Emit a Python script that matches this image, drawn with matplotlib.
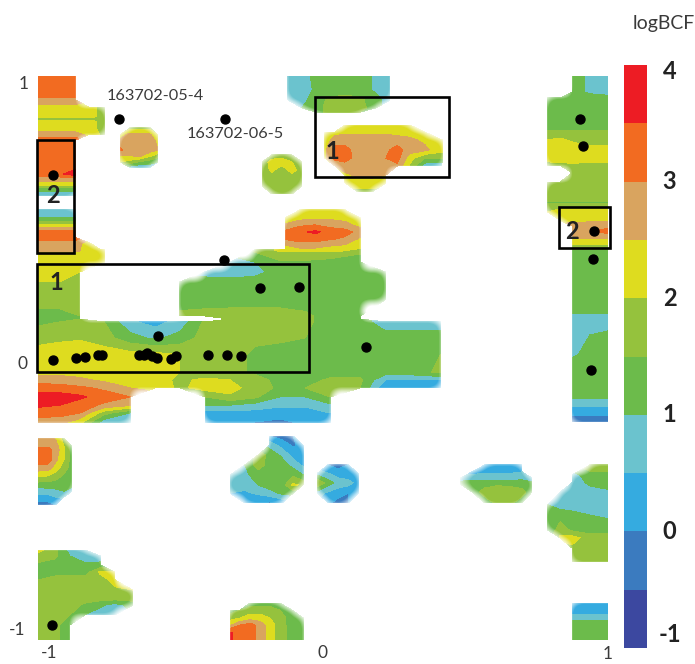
# -*- coding: utf-8 -*-
import numpy as np
import matplotlib
matplotlib.use("Agg")
import matplotlib.pyplot as plt
from matplotlib.patches import Rectangle
from matplotlib.colors import ListedColormap, BoundaryNorm
from matplotlib.cm import ScalarMappable

N = np.nan  # regiao sem dados (branco)

##############################################################################
""" DADOS """

niveis = [-1, -0.5, 0, 0.5, 1, 1.5, 2, 2.5, 3, 3.5, 4]
cores = ['#3C48A0', '#3B7BBF', '#35ABE0', '#6BC3CE', '#6CBB4B',
         '#95C23D', '#DEDC1F', '#D9A45F', '#F26B21', '#ED1C24']

# Bloco central
main_x = [-1, -.923, -.853, -.768, -.677, -.589, -.502, -.414, -.326, -.239,
          -.151, -.063, .025, .13, .218, .305, .411]
main_y = [.383, .34, .305, .27, .206, .149, .138, .128, .071, .011, -.05,
          -.078, -.106, -.138, -.167, -.195, -.227]
main_z = [
    [2.25, 2.25, 2.2, 2.0, N, N, N, N, N, 1.6, 2.1, 2.1, 2.0, 1.7, N, N, N],
    [2.25, 2.2, 2.2, 2.0, N, N, N, N, .7, 1.0, 1.4, 1.4, 1.3, 1.1, N, N, N],
    [2.1, 2.1, 2.0, N, N, N, N, .8, .7, .8, 1.25, 1.25, 1.25, 1.25, 1.0, N, N],
    [2.0, 2.0, 1.9, N, N, N, 1.3, 1.2, 1.2, 1.25, 1.25, 1.25, 1.25, 1.25, 1.0, N, N],
    [1.75, 1.75, 1.7, N, N, N, 1.3, 1.25, 1.25, 1.25, 1.25, 1.25, 1.25, 1.25, 1.0, N, N],
    [1.25, 1.3, 1.5, N, N, N, 1.6, 1.7, 1.75, 1.75, 1.75, 1.6, 1.3, 1.25, N, N, N],
    [1.3, 1.4, 1.5, N, N, N, N, N, 1.75, 1.75, 1.8, 1.6, 1.3, 1.25, N, N, N],
    [1.4, 1.5, 1.6, 1.5, .6, .3, .7, 1.6, 1.75, 1.75, 1.75, 1.6, 1.3, 1.25, .7, .7, .7],
    [1.8, 1.9, 1.95, 1.7, 1.2, .9, 1.2, 1.7, 1.75, 1.6, 1.6, 1.5, 1.25, 1.25, 1.25, 1.25, 1.25],
    [2.25, 2.3, 2.3, 2.3, 2.2, 2.2, 2.0, 1.75, 1.7, 1.4, 1.25, 1.25, 1.25, 1.25, 1.25, 1.25, 1.5],
    [2.25, 2.3, 2.3, 2.3, 2.3, 2.2, 2.0, 1.7, 1.7, 1.4, 1.25, 1.25, 1.25, 1.25, 1.25, 1.25, 1.6],
    [2.8, 2.75, 2.6, 2.4, 2.3, 2.2, 1.9, 2.1, 2.0, 1.75, 1.3, 1.25, 1.6, 1.6, .5, .5, .5],
    [3.25, 3.2, 3.1, 2.9, 2.5, 2.3, 1.9, 2.2, 2.2, 1.75, 1.4, 1.5, 1.75, 1.5, .1, .1, .1],
    [3.75, 3.75, 3.6, 3.25, 3.0, N, N, 1.5, 1.9, 1.6, 1.0, 1.0, 1.5, N, N, N, N],
    [3.6, 3.5, 3.25, 2.9, 2.6, N, N, 1.0, 1.0, .8, .6, .6, .9, N, N, N, N],
    [3.25, 3.2, 3.0, 1.7, 1.0, N, N, .3, .3, .3, .2, .2, .5, N, N, N, N],
    [2.75, 2.7, 2.2, .7, .6, N, N, .2, .2, 0, -.1, .1, .3, N, N, N, N],
]

# Faixa da esquerda (acima do bloco central)
esq_x = [-1, -.94, -.867, -.818, -.768]
esq_y = [1, .929, .915, .887, .855, .848, .84, .809, .794, .773, .684, .652,
         .635, .617, .599, .582, .574, .553, .528, .507, .489, .472, .461,
         .447, .426, .408, .376]
esq_z = [
    [3.25, 3.25, 3.25, N, N],
    [3.25, 3.25, 3.1, N, N],
    [2.75, 2.75, 2.75, N, N],
    [2.3, 2.3, 2.3, 2.1, 1.9],
    [2.25, 2.25, 2.25, 2.1, 1.9],
    [1.3, 1.3, 1.3, 1.4, 1.6],
    [2.25, 2.25, 2.25, 2.1, 1.9],
    [2.25, 2.25, 2.25, 2.1, 1.9],
    [2.75, 2.75, 2.75, 2.2, 1.9],
    [3.2, 3.2, 3.2, N, N],
    [3.25, 3.25, 3.25, N, N],
    [3.25, 3.3, 3.8, N, N],
    [2.75, 2.75, 2.75, N, N],
    [2.2, 2.2, 2.2, N, N],
    [1.3, 1.3, 1.3, N, N],
    [.7, .7, .7, N, N],
    [.7, .7, .7, N, N],
    [N, N, N, N, N],
    [.8, .8, .8, N, N],
    [.8, .8, .8, N, N],
    [1.25, 1.25, 1.25, N, N],
    [2.0, 2.0, 2.0, N, N],
    [2.6, 2.6, 2.6, N, N],
    [3.25, 3.25, 3.25, N, N],
    [3.25, 3.25, 3.25, N, N],
    [2.75, 2.75, 2.75, 2.2, N],
    [2.6, 2.6, 2.6, 2.2, 2.0],
]

# Circulo pequeno perto de 163702-05-4
c1_x = [-.712, -.677, -.642, -.607, -.579]
c1_y = [.816, .791, .766, .738, .717, .695, .677]
c1_z = [
    [N, 1.8, 1.8, 1.8, N],
    [2.2, 2.75, 2.75, 2.6, 2.0],
    [2.75, 2.75, 2.75, 2.75, 2.4],
    [3.1, 2.75, 2.75, 2.75, 2.5],
    [2.5, 2.5, 2.6, 2.1, 1.7],
    [2.0, 1.8, 1.4, 1.2, 1.0],
    [N, .8, .6, .7, N],
]

# Circulo pequeno verde
c2_x = [-.214, -.179, -.144, -.109, -.074]
c2_y = [.72, .695, .667, .638, .61, .582]
c2_z = [
    [N, 1.7, 1.8, 1.7, N],
    [1.7, 2.2, 2.2, 2.0, 1.7],
    [1.75, 2.1, 1.75, 2.2, 1.75],
    [1.75, 1.75, 1.75, 1.75, 1.75],
    [1.75, 1.75, 1.75, 1.75, 1.75],
    [N, 1.6, 1.6, 1.6, N],
]

# Mancha alaranjada acima do bloco central
lar_x = [-.133, -.081, -.028, .025, .077, .13]
lar_y = [.525, .497, .472, .447, .422, .397, .376]
lar_z = [
    [N, 2.0, 2.1, 2.1, 2.0, N],
    [2.0, 2.3, 2.4, 2.4, 2.3, 2.0],
    [2.6, 2.9, 3.0, 2.8, 2.7, 2.3],
    [3.1, 3.4, 3.6, 3.3, 3.2, 2.8],
    [3.05, 3.2, 3.2, 3.05, 2.9, 2.4],
    [2.4, 2.7, 2.7, 2.5, 2.4, 2.2],
    [2.0, 2.1, 2.1, 2.0, 1.9, 1.7],
]

# Topo central
top_x = [-.123, -.074, -.025, .025, .077, .13, .186, .235]
top_y = [1, .95, .915, .887, .872]
top_z = [
    [.7, .7, 1.2, 1.25, 1.25, 1.25, .9, .7],
    [.7, .7, 1.1, 1.25, 1.25, 1.25, .9, .7],
    [.7, .8, 1.3, 1.6, 1.75, 1.6, 1.2, .7],
    [N, 1.0, 1.3, 1.7, 1.75, 1.7, 1.2, N],
    [N, N, 1.3, 1.7, 1.7, 1.5, N, N],
]

# Mancha dentro da caixa superior
cx_x = [.007, .042, .077, .123, .172, .221, .26, .305, .358, .418]
cx_y = [.826, .801, .773, .738, .709, .681, .649, .621, .589]
cx_z = [
    [N, N, 2.2, 2.1, 2.1, 2.1, 2.1, 2.0, N, N],
    [2.2, 2.3, 2.4, 2.4, 2.4, 2.4, 2.3, 2.3, 2.2, N],
    [2.2, 2.75, 2.75, 2.75, 2.75, 2.75, 2.75, 2.6, 2.4, 2.1],
    [2.4, 3.2, 3.2, 2.75, 2.75, 2.9, 3.2, 2.75, 2.6, 2.2],
    [2.4, 3.2, 3.25, 2.75, 2.75, 3.0, 3.2, 2.2, 1.5, 1.5],
    [N, 2.5, 2.75, 2.75, 2.75, 2.9, 2.9, 1.9, .7, .7],
    [N, N, 2.4, 2.6, 2.7, 2.5, N, N, N, N],
    [N, N, 2.2, 2.2, 2.2, 2.1, N, N, N, N],
    [N, N, N, 1.9, 1.9, N, N, N, N, N],
]

# Coluna da direita
dir_x = [.789, .832, .874, .937, 1]
dir_y = [1, .943, .922, .816, .794, .766, .738, .702, .684, .656, .624, .56,
         .55, .539, .518, .489, .468, .45, .433, .415, .397, .376, .17, .142,
         .113, .082, .011, -.025, -.131, -.16, -.184, -.213, -.227]
dir_z = [
    [N, N, 1.25, .9, .7],
    [N, N, 1.25, .9, .7],
    [1.25, 1.25, 1.25, 1.25, 1.25],
    [1.25, 1.25, 1.25, 1.25, 1.25],
    [1.75, 1.75, 1.75, 1.75, 1.75],
    [2.1, 2.25, 2.0, 1.75, 1.75],
    [2.25, 2.25, 2.25, 2.25, 2.25],
    [2.1, 2.25, 2.3, 2.25, 2.1],
    [1.8, 1.8, 1.8, 1.8, 1.9],
    [N, N, 1.75, 1.75, 1.75],
    [1.75, 1.75, 1.75, 1.75, 1.75],
    [1.75, 1.75, 1.75, 1.75, 1.75],
    [1.3, 1.3, 1.3, 1.3, 1.3],
    [1.9, 1.9, 1.9, 1.9, 1.9],
    [2.0, 2.1, 2.2, 2.25, 2.25],
    [N, 2.25, 2.3, 2.4, 2.4],
    [N, N, 2.75, 2.75, 2.75],
    [N, N, 2.75, 3.0, 3.25],
    [N, N, 2.75, 2.75, 2.75],
    [N, N, 2.25, 2.25, 2.25],
    [N, N, 1.9, 1.9, 1.9],
    [N, N, 1.3, 1.3, 1.3],
    [N, N, 1.25, 1.25, 1.25],
    [N, N, .7, .7, .7],
    [N, N, .7, .7, .7],
    [N, N, .7, 1.0, 1.25],
    [N, N, .9, 1.2, 1.25],
    [N, N, 1.25, 1.25, 1.25],
    [N, N, 1.25, 1.25, 1.25],
    [N, N, .7, .7, .7],
    [N, N, .3, .3, .3],
    [N, N, -.1, -.1, -.1],
    [N, N, -.1, -.1, -.1],
]

# Mancha esquerda inferior
li_x = [-1, -.965, -.937, -.909, -.881]
li_y = [-.284, -.312, -.326, -.362, -.39, -.418, -.447, -.472, -.493, -.521]
li_z = [
    [2.75, 2.75, 2.4, 1.8, N],
    [2.9, 2.9, 2.7, 2.0, 1.3],
    [3.25, 3.25, 2.75, 2.1, 1.25],
    [3.25, 3.25, 2.6, 2.0, 1.25],
    [2.75, 2.75, 2.2, 1.75, 1.25],
    [2.1, 2.0, 1.75, 1.4, 1.2],
    [1.3, 1.3, 1.25, 1.25, 1.1],
    [.7, .8, .9, 1.0, .9],
    [.3, .3, .5, .6, N],
    [-.2, -.2, 0, N, N],
]

# Canto inferior esquerdo
ce_x = [-1, -.94, -.888, -.835, -.782, -.73, -.667]
ce_y = [-.681, -.702, -.734, -.759, -.787, -.823, -.851, -.876, -.911, -.947, -1]
ce_z = [
    [2.2, 1.6, .8, .6, N, N, N],
    [1.75, 1.6, 1.0, .7, .8, N, N],
    [1.4, 1.3, 1.25, 1.1, 1.1, N, N],
    [1.25, 1.25, 1.25, 1.25, 2.1, 2.0, N],
    [1.5, 1.75, 1.75, 1.75, 1.75, 2.2, N],
    [1.75, 1.75, 1.75, 1.75, 1.75, 1.9, 2.0],
    [1.75, 1.75, 1.75, 1.75, 1.75, 1.75, 1.75],
    [1.75, 1.75, 1.75, 1.4, 1.1, .8, 1.2],
    [1.75, 1.75, 1.5, 1.0, .7, .6, N],
    [1.75, 1.6, 1.25, N, N, N, N],
    [1.75, 1.6, 1.25, N, N, N, N],
]

# Mancha inferior central
ic_x = [-.326, -.291, -.256, -.221, -.186, -.151, -.109, -.07]
ic_y = [-.869, -.894, -.922, -.947, -.972, -1]
ic_z = [
    [N, N, 1.25, 1.25, 1.25, 1.25, N, N],
    [1.25, 1.5, 1.75, 1.75, 1.75, 1.5, 1.25, N],
    [1.8, 2.0, 2.25, 2.25, 2.0, 1.75, 1.25, 1.25],
    [2.4, 3.0, 3.25, 2.75, 2.25, 1.75, 1.25, 1.25],
    [3.6, 3.25, 3.25, 2.75, 2.25, 1.75, 1.3, 1.25],
    [3.6, 3.25, 3.25, 2.75, 2.25, 1.75, 1.3, 1.25],
]

# Coracao
co_x = [-.326, -.274, -.228, -.186, -.144, -.105, -.07]
co_y = [-.277, -.309, -.344, -.379, -.415, -.45, -.479, -.514]
co_z = [
    [N, N, N, 0, -.2, 0, N],
    [N, N, N, .8, .3, -.1, .2],
    [N, N, 1.8, 1.3, .9, .3, .3],
    [N, 1.0, 1.8, 1.25, 1.25, .8, .4],
    [.7, .9, 1.2, 1.25, 1.25, 1.4, 1.0],
    [.6, .7, 1.0, 1.25, 1.25, 2.1, 1.9],
    [.5, .4, .6, .8, 1.1, 1.25, N],
    [N, .1, 0, -.1, .1, N, N],
]

# Circulo azul
az_x = [-.018, .018, .053, .088, .123]
az_y = [-.379, -.408, -.443, -.479, -.514]
az_z = [
    [N, 0, -.2, 0, N],
    [.7, .5, .2, .1, .2],
    [1.9, 1.25, .8, .7, .3],
    [.7, .4, .2, 0, .2],
    [N, .1, -.2, 0, N],
]

# Oval
ov_x = [.481, .523, .568, .611, .656, .698, .733]
ov_y = [-.379, -.404, -.426, -.447, -.475, -.514]
ov_z = [
    [N, N, .3, .2, .2, .3, N],
    [N, .3, .4, .4, .4, .5, N],
    [.8, .8, .8, .8, .8, .9, .8],
    [1.2, 1.25, 1.3, 1.4, 1.3, 1.25, 1.1],
    [N, 1.25, 1.7, 1.9, 1.9, 1.7, 1.2],
    [N, N, 1.25, 1.6, 1.6, 1.25, N],
]

# Direita inferior
di_x = [.789, .832, .874, .937, 1]
di_y = [-.379, -.415, -.443, -.475, -.521, -.557, -.61, -.638, -.674, -.723]
di_z = [
    [N, N, N, 1.9, 2.0],
    [N, N, .8, 1.25, 1.25],
    [N, N, .7, 1.1, 1.25],
    [N, .7, .7, .8, .9],
    [1.0, .8, .7, .7, .7],
    [1.25, 1.25, 1.2, 1.0, .9],
    [1.0, 1.8, 1.4, 1.25, 1.3],
    [N, 2.1, 2.2, 1.75, 1.75],
    [N, N, 1.9, 1.9, 1.9],
    [N, N, 1.7, 1.75, 1.75],
]

# Canto inferior direito
cd_x = [.874, .937, 1]
cd_y = [-.869, -.901, -.922, -.94, -1]
cd_z = [
    [.5, .3, .2],
    [.4, .3, .3],
    [.8, .8, .8],
    [1.25, 1.25, 1.25],
    [1.25, 1.25, 1.25],
]

ilhas = [(main_x, main_y, main_z), (esq_x, esq_y, esq_z), (c1_x, c1_y, c1_z),
         (c2_x, c2_y, c2_z), (lar_x, lar_y, lar_z), (top_x, top_y, top_z),
         (cx_x, cx_y, cx_z), (dir_x, dir_y, dir_z), (li_x, li_y, li_z),
         (ce_x, ce_y, ce_z), (ic_x, ic_y, ic_z), (co_x, co_y, co_z),
         (az_x, az_y, az_z), (ov_x, ov_y, ov_z), (di_x, di_y, di_z),
         (cd_x, cd_y, cd_z)]

# Pontos pretos
pontos_x = [-.716, -.344, -.947, -.347, -.221, -.084, -.579, -.947, -.867,
            -.835, -.789, -.775, -.646, -.628, -.618, -.6, -.582, -.533,
            -.516, -.404, -.337, -.288, .151, .902, .912, .951, .947, .94,
            -.951]
pontos_y = [.848, .848, .649, .348, .248, .252, .078, -.007, 0, .004, .011,
            .011, .011, .011, .018, .007, 0, -.004, .007, .011, .011, .007,
            .039, .848, .752, .45, .351, -.043, -.947]

# Caixas: x esq., x dir., y inf., y sup.
caixas = [(-1.004, -.874, .372, .773), (-1.004, -.049, -.05, .333),
          (-.028, .442, .642, .926), (.828, 1.007, .39, .535)]

##############################################################################
""" GRAFICO """

plt.rcParams['font.family'] = ['Lato', 'DejaVu Sans']
cinza = '#3a3a3a'

fig = plt.figure(figsize=(6.95, 6.64), dpi=100)
ax = fig.add_axes([38 / 695, 24 / 664, 570 / 695, 564 / 664])

for x, y, z in ilhas:
    ax.contourf(x, y, np.array(z), levels=niveis, colors=cores)

# Borda suave das manchas: veu branco feito a partir das celulas com dados
gx = np.linspace(-1, 1, 570)
gy = np.linspace(1, -1, 564)
cheio = np.zeros((564, 570))
for x, y, z in ilhas:
    z = np.array(z)
    for i in range(z.shape[0] - 1):
        for j in range(z.shape[1] - 1):
            if not np.isnan(z[i:i + 2, j:j + 2]).any():
                linhas = (gy <= y[i]) & (gy >= y[i + 1])
                colunas = (gx >= x[j]) & (gx <= x[j + 1])
                cheio[np.ix_(linhas, colunas)] = 1

raio = 6
nucleo = np.ones(2 * raio + 1) / (2 * raio + 1)
borrado = np.pad(cheio, raio * 3, mode='edge')
for _ in range(2):  # duas passadas de media movel
    borrado = np.apply_along_axis(lambda v: np.convolve(v, nucleo, mode='same'), 0, borrado)
    borrado = np.apply_along_axis(lambda v: np.convolve(v, nucleo, mode='same'), 1, borrado)
borrado = borrado[raio * 3:-raio * 3, raio * 3:-raio * 3]
veu = np.ones((564, 570, 4))
veu[..., 3] = 1 - np.clip((borrado - 0.15) / 0.45, 0, 1)
ax.imshow(veu, extent=(-1, 1, -1, 1), aspect='auto', zorder=2, interpolation='bilinear')

ax.set_xlim(-1, 1)
ax.set_ylim(-1, 1)
ax.axis('off')

ax.scatter(pontos_x, pontos_y, s=42, color='black', zorder=5, clip_on=False)

for x0, x1, y0, y1 in caixas:
    ax.add_patch(Rectangle((x0, y0), x1 - x0, y1 - y0, fill=False,
                           edgecolor='black', lw=1.9, zorder=4, clip_on=False))

# Numeros das caixas
ax.text(-.937, .266, '1', fontsize=17, fontweight='bold', ha='center', va='center', color='#222222', zorder=6)
ax.text(-.947, .578, '2', fontsize=17, fontweight='bold', ha='center', va='center', color='#222222', zorder=6)
ax.text(.032, .731, '1', fontsize=17, fontweight='bold', ha='center', va='center', color='#222222', zorder=6)
ax.text(.874, .45, '2', fontsize=17, fontweight='bold', ha='center', va='center', color='#222222', zorder=6)

# Rotulos das amostras
ax.text(-.589, .929, '163702-05-4', fontsize=11.7, ha='center', va='center', color=cinza)
ax.text(-.309, .794, '163702-06-5', fontsize=11.7, ha='center', va='center', color=cinza)

# Rotulos dos eixos
ax.text(-1.049, .972, '1', fontsize=12.5, ha='center', va='center', color=cinza, clip_on=False)
ax.text(-1.056, -.021, '0', fontsize=12.5, ha='center', va='center', color=cinza, clip_on=False)
ax.text(-1.073, -.965, '-1', fontsize=12.5, ha='center', va='center', color=cinza, clip_on=False)
ax.text(-.961, -1.046, '-1', fontsize=12.5, ha='center', va='center', color=cinza, clip_on=False)
ax.text(0, -1.046, '0', fontsize=12.5, ha='center', va='center', color=cinza, clip_on=False)
ax.text(1, -1.05, '1', fontsize=12.5, ha='center', va='center', color=cinza, clip_on=False)

# Barra de cores
cax = fig.add_axes([624 / 695, 16 / 664, 23 / 695, 583 / 664])
sm = ScalarMappable(norm=BoundaryNorm(niveis, len(cores)), cmap=ListedColormap(cores))
cb = fig.colorbar(sm, cax=cax, ticks=[])
cb.outline.set_visible(False)
cb.ax.minorticks_off()
for val, y in zip(['4', '3', '2', '1', '0', '-1'], [3.94, 3, 2, 1, 0, -.88]):
    cax.text(1.98, y, val, transform=cax.get_yaxis_transform(), fontsize=17,
             fontweight='bold', ha='center', va='center', color='#222222')

fig.text(664 / 695, 1 - 24 / 664, 'logBCF', fontsize=14, ha='center', va='center', color=cinza)

fig.savefig('out.png', dpi=100)
